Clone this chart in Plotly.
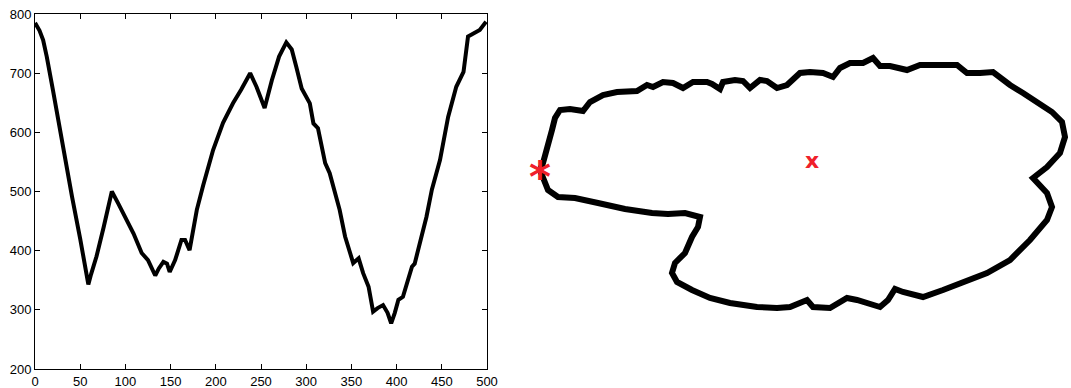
import plotly.graph_objects as go

# ---- signature (left) ----
sig_idx = [0, 5, 9, 13, 20, 28, 35, 41, 50, 56, 59, 62, 68, 76, 85, 92, 100, 109, 118, 125,
           133, 137, 142, 146, 149, 155, 162, 166, 171, 179, 186, 197, 208, 219, 228, 238, 245,
           254, 262, 270, 278, 284, 289, 295, 304, 308, 313, 321, 326, 334, 337, 343, 348, 352,
           358, 363, 369, 374, 379, 385, 390, 394, 398, 402, 407, 417, 420, 428, 433, 439, 448,
           457, 466, 474, 479, 485, 492, 499]
sig_val = [785, 772, 756, 728, 670, 600, 545, 491, 420, 362, 343, 360, 390, 440, 500, 480, 457,
           429, 396, 384, 358, 370, 381, 378, 364, 384, 418, 418, 401, 469, 510, 570, 616, 649,
           672, 700, 677, 641, 688, 728, 752, 740, 711, 674, 649, 615, 607, 548, 531, 489, 469,
           424, 401, 379, 387, 362, 339, 297, 303, 308, 295, 277, 295, 317, 322, 373, 378, 429,
           457, 503, 553, 626, 677, 702, 762, 767, 773, 787]

x_ticks = [0, 50, 100, 150, 200, 250, 300, 350, 400, 450, 500]
y_ticks = [200, 300, 400, 500, 600, 700, 800]

# ---- contour (right), image coordinates ----
cont_x = [540, 548, 558, 575, 598, 625, 652, 668, 685, 700, 698, 692, 685, 675, 672, 677, 692,
          705, 710, 730, 757, 777, 790, 807, 813, 830, 847, 857, 866, 880, 888, 895, 903, 923,
          943, 963, 987, 1010, 1030, 1047, 1052, 1047, 1033, 1047, 1060, 1065, 1062, 1052, 1037,
          1023, 1010, 1000, 993, 980, 967, 957, 943, 920, 907, 900, 890, 880, 873, 863, 850,
          840, 833, 823, 810, 800, 793, 787, 777, 767, 760, 750, 743, 735, 723, 720, 712, 707,
          693, 683, 673, 663, 653, 647, 637, 617, 603, 590, 583, 570, 560, 555, 552, 548, 543,
          540]
cont_y = [170, 190, 197, 198, 203, 209, 213, 214, 213, 217, 227, 237, 253, 263, 273, 282, 290,
          297, 298, 303, 307, 308, 307, 300, 307, 308, 298, 300, 303, 307, 300, 289, 292, 297,
          290, 282, 273, 260, 240, 220, 207, 193, 178, 167, 153, 137, 122, 112, 103, 93, 85,
          77, 72, 73, 73, 65, 65, 65, 70, 68, 66, 66, 58, 63, 63, 68, 77, 73, 72, 73, 80, 85,
          88, 81, 80, 88, 81, 80, 82, 89, 84, 82, 82, 88, 83, 82, 87, 85, 91, 92, 95, 102, 111,
          109, 110, 118, 130, 147, 163, 170]

start_pt = (540, 170)
centroid = (812, 162)

W, H = 1071, 388
RED = "#f0202a"

fig = go.Figure()
fig.add_trace(go.Scatter(x=sig_idx, y=sig_val, mode="lines",
                         line=dict(color="black", width=4),
                         xaxis="x", yaxis="y", showlegend=False))
fig.add_trace(go.Scatter(x=cont_x, y=cont_y, mode="lines",
                         line=dict(color="black", width=6),
                         xaxis="x2", yaxis="y2", showlegend=False))
fig.add_trace(go.Scatter(x=[centroid[0]], y=[centroid[1]], mode="text", text=["x"],
                         textposition="middle center",
                         textfont=dict(color=RED, size=22, family="DejaVu Sans", weight="bold"),
                         xaxis="x2", yaxis="y2", showlegend=False))
fig.add_annotation(x=start_pt[0], y=start_pt[1], xref="x2", yref="y2", text="*",
                   showarrow=False, xanchor="center", yanchor="middle", yshift=-7,
                   font=dict(color=RED, size=42, family="DejaVu Sans", weight="bold"))

axis_common = dict(showline=True, linecolor="black", linewidth=1, mirror="ticks",
                   ticks="inside", ticklen=5, tickcolor="black", showgrid=False,
                   zeroline=False, automargin=False,
                   tickfont=dict(family="Liberation Sans, Arial", size=13, color="black"))
fig.update_layout(
    template="none",
    width=W, height=H,
    margin=dict(l=0, r=0, t=0, b=0, pad=0),
    paper_bgcolor="white", plot_bgcolor="white",
    xaxis=dict(domain=[35 / W, 487 / W], range=[0, 500], tickvals=x_ticks, **axis_common),
    yaxis=dict(domain=[1 - 369 / H, 1 - 14 / H], range=[200, 800], tickvals=y_ticks, **axis_common),
    xaxis2=dict(domain=[520 / W, 1], range=[520, W], visible=False, automargin=False),
    yaxis2=dict(domain=[0, 1], range=[H, 0], visible=False, anchor="x2", automargin=False),
)
fig.write_html("out.html")
